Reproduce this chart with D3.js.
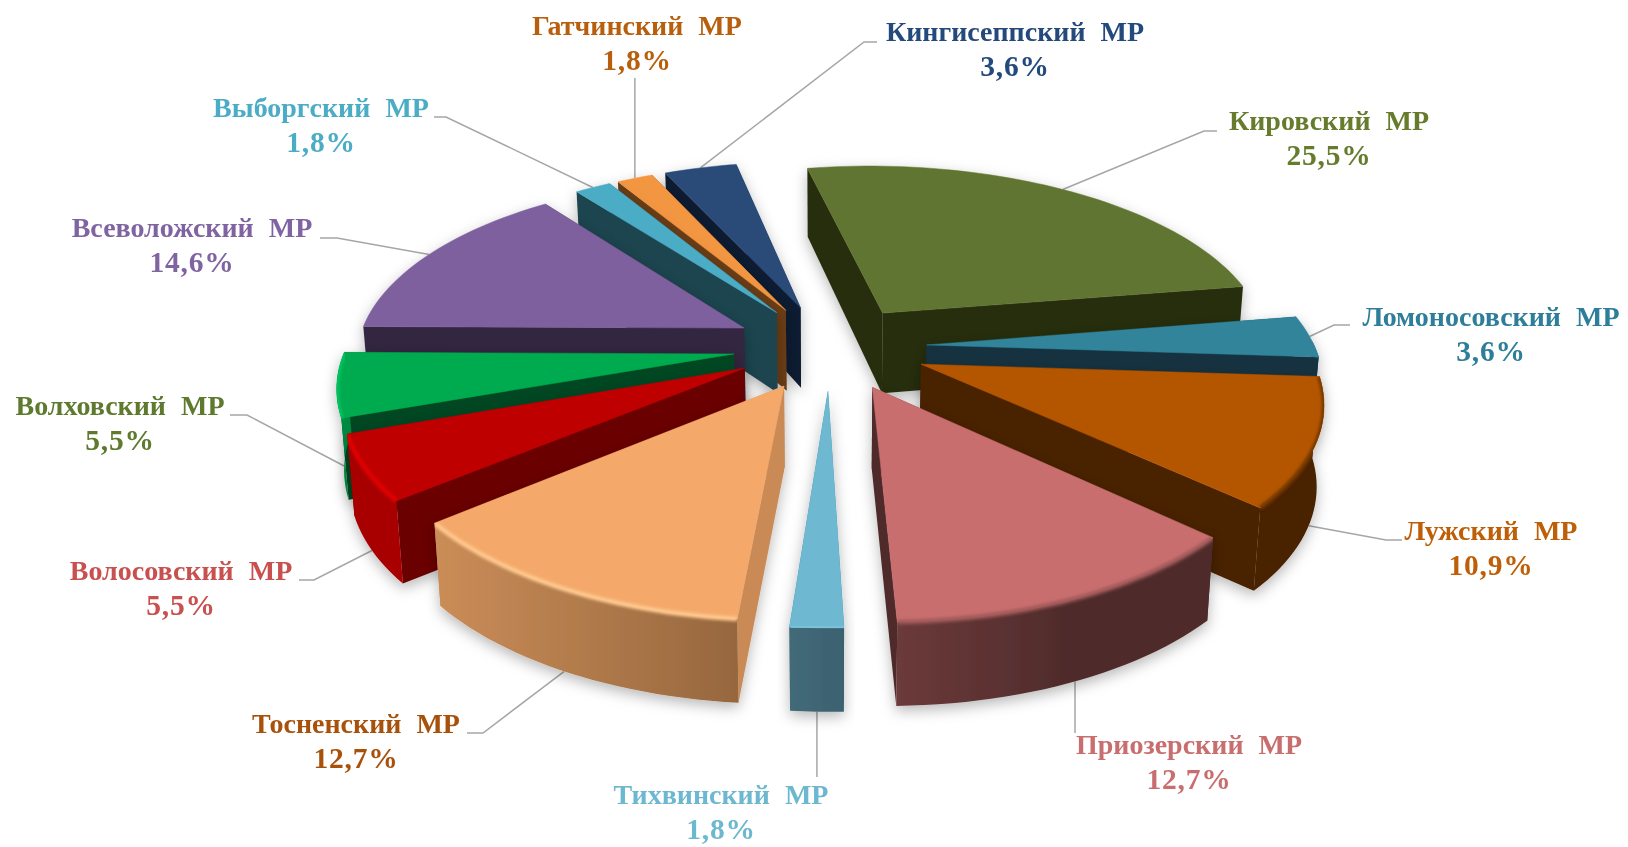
<!DOCTYPE html>
<html lang="ru">
<head>
<meta charset="utf-8">
<title>Распределение по районам</title>
<script src="https://cdnjs.cloudflare.com/ajax/libs/d3/7.8.5/d3.min.js"></script>
<style>
    html, body { margin: 0; padding: 0; background: #fff; overflow: hidden; }
    svg { display: block; filter: blur(0.45px); }
    .labels { filter: blur(0.35px); }
    .label { font-family: "Liberation Serif", serif; font-weight: bold; font-size: 28px; word-spacing: 8px; text-anchor: middle; dominant-baseline: central; }
    .label.pct { font-size: 29.5px; letter-spacing: 0.8px; }
    .leader { fill: none; stroke: #a6a6a6; stroke-width: 1.5; }
</style>
</head>
<body>
<div id="chart"></div>
<script>
// data, clockwise from the top
const districts = ["Кировский МР", "Ломоносовский МР", "Лужский МР", "Приозерский МР", "Тихвинский МР", "Тосненский МР",
    "Волосовский МР", "Волховский МР", "Всеволожский МР", "Выборгский МР", "Гатчинский МР", "Кингисеппский МР"];
const shares = [25.5, 3.6, 10.9, 12.7, 1.8, 12.7, 5.5, 5.5, 14.6, 1.8, 1.8, 3.6];

// colours per slice
const topColors = ["#617430", "#31849b", "#b45605", "#c96e6e", "#6eb9d1", "#f4a96a", "#be0000", "#00aa50", "#7f609f", "#4bacc6", "#f39642", "#2a4b78"];
const cutColors = ["#282e10", "#133340", "#4a2000", "#4f2b2b", "#3f6775", "#c98a55", "#6b0000", "#004620", "#332640", "#1f4450", "#6a3d17", "#101f33"];
const wallLight = ["#282e10", "#133340", "#4a2000", "#6c3a3a", "#436a78", "#cb8d58", "#a80000", "#008a40", "#332640", "#1f4450", "#6a3d17", "#101f33"];
const wallDark = ["#282e10", "#133340", "#4a2000", "#4f2b2b", "#3b6170", "#96673e", "#a80000", "#008a40", "#332640", "#1f4450", "#6a3d17", "#101f33"];
const rimColors = ["#617430", "#31849b", "#6e3500", "#a05858", "#7cc6dc", "#ffc98f", "#e40000", "#00c860", "#7f609f", "#4bacc6", "#f39642", "#2a4b78"];
const textColors = ["#667c2c", "#2e7e9a", "#be5f08", "#c96e6e", "#6cb8d0", "#a8510a", "#c8504e", "#5e7a2e", "#8064a2", "#4bacc6", "#b85f0e", "#244a7c"];

// label layout, same order as districts
const labelX = [1329, 1491, 1491, 1189, 721, 356, 181, 120, 192, 321, 637, 1015];
const labelY = [120, 316, 530, 744, 794, 723, 570, 405, 227, 107, 25, 31];
const leaderFrom = [[1217, 131], [1350, 325], [1402, 540], [null, 733], [null, 777], [467, 733], [299, 580], [230, 415], [320, 238], [434, 117], [null, 78], [877, 42]];
const leaderKnee = [[1204, 131], [1334, 325], [1386, 540], null, null, [483, 733], [314, 580], [247, 415], [337, 238], [446, 117], null, [864, 42]];

const width = 1628;
const height = 847;
const rotation = -11 * Math.PI / 180;
const explodeX = 0.25;
const explodeY = 0.235;
const lineGap = 35;
const perspX = 0.16;
const perspY = 0.164;
const shear = 6;

const x = d3.scaleLinear().domain([-1, 1]).range([830 - 388, 830 + 388]);
const y = d3.scaleLinear().domain([-1, 1]).range([347 - 181.4, 347 + 181.4]);
const thickness = d3.scaleLinear().domain([-1.2, -0.25, 1.25]).range([68, 80, 84]);

const svg = d3.select("#chart").append("svg")
    .attr("width", width)
    .attr("height", height);

const defs = svg.append("defs");

const shadow = defs.append("filter")
    .attr("id", "slice-shadow")
    .attr("x", "-20%").attr("y", "-20%")
    .attr("width", "140%").attr("height", "140%");
shadow.append("feDropShadow")
    .attr("dx", 0)
    .attr("dy", 5)
    .attr("stdDeviation", 7)
    .attr("flood-color", "#000")
    .attr("flood-opacity", 0.28);

defs.append("filter")
    .attr("id", "rim-blur")
    .append("feGaussianBlur")
    .attr("stdDeviation", 1.4);

// plane coordinates to the screen, with perspective; lower = bottom face of the slice
function project(px, py, lower) {
    const sx = x(px / (1 - perspX * py)) + shear * py;
    const sy = y(py / (1 - perspY * py));
    if (!lower) return [sx, sy];
    return [x(0) + (sx - x(0)) * 0.985, sy + thickness(py)];
}

const pie = d3.pie().sort(null).startAngle(rotation).endAngle(rotation + 2 * Math.PI);
const slices = pie(shares).map((d, i) => {
    const mid = (d.startAngle + d.endAngle) / 2;
    return {
        index: i,
        start: d.startAngle,
        end: d.endAngle,
        mid: mid,
        ox: explodeX * Math.sin(mid),
        oy: -explodeY * Math.cos(mid)
    };
});

function rimPoint(s, angle, lower) {
    return project(s.ox + Math.sin(angle), s.oy - Math.cos(angle), lower);
}

function arcAngles(a0, a1) {
    const n = Math.max(2, Math.ceil((a1 - a0) / 0.03));
    return d3.range(n + 1).map(k => a0 + (a1 - a0) * k / n);
}

const path = d3.line();

// leaders go under the slices
slices.forEach(s => {
    const i = s.index;
    const front = Math.cos(s.mid) < 0;
    const end = rimPoint(s, s.mid, front);
    const from = [leaderFrom[i][0] === null ? end[0] : leaderFrom[i][0], leaderFrom[i][1]];
    const pts = leaderKnee[i] ? [from, leaderKnee[i], end] : [from, end];
    svg.append("path")
        .attr("class", "leader")
        .attr("d", path(pts));
});

// back to front
const order = slices.slice().sort((a, b) => d3.descending(Math.cos(a.mid), Math.cos(b.mid)));

order.forEach(s => {
    const i = s.index;
    const g = svg.append("g")
        .attr("class", "slice")
        .attr("filter", "url(#slice-shadow)");

    const angles = arcAngles(s.start, s.end);
    const apexTop = project(s.ox, s.oy, false);
    const apexLow = project(s.ox, s.oy, true);
    const arcTop = angles.map(a => rimPoint(s, a, false));
    const arcLow = angles.map(a => rimPoint(s, a, true));
    const topShape = path([apexTop].concat(arcTop)) + "Z";

    // cut faces
    [[arcTop[0], arcLow[0]], [arcTop[arcTop.length - 1], arcLow[arcLow.length - 1]]].forEach(edge => {
        g.append("path")
            .attr("fill", cutColors[i])
            .attr("d", path([apexTop, edge[0], edge[1], apexLow]) + "Z");
    });

    // outer wall, only the part turned to the viewer
    const wallAngles = angles.filter(a => Math.cos(a) < 0.03);
    let wallShape = "";
    if (wallAngles.length > 1) {
        const wallTop = wallAngles.map(a => rimPoint(s, a, false));
        const wallLow = wallAngles.map(a => rimPoint(s, a, true));
        const xs = wallTop.concat(wallLow).map(p => p[0]);
        wallShape = path(wallTop.concat(wallLow.slice().reverse())) + "Z";
        const grad = defs.append("linearGradient")
            .attr("id", "wall-" + i)
            .attr("gradientUnits", "userSpaceOnUse")
            .attr("x1", d3.min(xs)).attr("x2", d3.max(xs))
            .attr("y1", 0).attr("y2", 0);
        // light at the left, Приозерский is dark from the middle on
        grad.append("stop").attr("offset", 0).attr("stop-color", wallLight[i]);
        grad.append("stop").attr("offset", i === 3 ? 0.55 : 1).attr("stop-color", wallDark[i]);
        g.append("path")
            .attr("fill", `url(#wall-${i})`)
            .attr("d", wallShape);
    }

    // top face
    g.append("path")
        .attr("fill", topColors[i])
        .attr("stroke", topColors[i])
        .attr("stroke-width", 0.5)
        .attr("d", topShape);

    // soft bevel along the front edge, kept inside the slice
    if (wallAngles.length > 1) {
        defs.append("clipPath")
            .attr("id", "clip-" + i)
            .append("path")
            .attr("d", topShape + wallShape);
        g.append("g")
            .attr("clip-path", `url(#clip-${i})`)
            .append("path")
            .attr("fill", "none")
            .attr("stroke", rimColors[i])
            .attr("stroke-width", 4.5)
            .attr("filter", "url(#rim-blur)")
            .attr("d", path(wallAngles.map(a => rimPoint(s, a, false))));
    }
});

// labels
const labels = svg.append("g").attr("class", "labels");
districts.forEach((name, i) => {
    labels.append("text")
        .attr("class", "label")
        .attr("x", labelX[i])
        .attr("y", labelY[i])
        .attr("fill", textColors[i])
        .text(name);
    labels.append("text")
        .attr("class", "label pct")
        .attr("x", labelX[i])
        .attr("y", labelY[i] + lineGap)
        .attr("fill", textColors[i])
        .text(d3.format(".1f")(shares[i]).replace(".", ",") + "%");
});
</script>
</body>
</html>
